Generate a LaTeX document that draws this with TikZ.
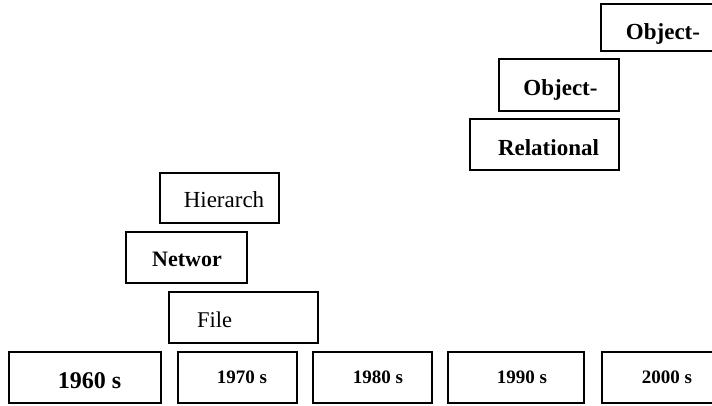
\documentclass[tikz,border=0pt]{standalone}
\usepackage{fontspec}
\setmainfont{Liberation Serif}
\usetikzlibrary{positioning}

\begin{document}
\begin{tikzpicture}[x=1pt,y=-1pt,
    era/.style={draw,line width=1.8pt,inner sep=0pt,anchor=north west},
    yr/.style={anchor=base,inner sep=0pt,font=\fontsize{19}{21}\selectfont\bfseries},
    model/.style={anchor=base,inner sep=0pt,font=\fontsize{23}{25}\selectfont\bfseries},
    plain/.style={anchor=base,inner sep=0pt,font=\fontsize{23}{25}\selectfont}]
    \clip (0,0) rectangle (712,405);
    % decades
    \node[era,minimum width=152,minimum height=51] (d60) at (8,351) {};
    \node[era,minimum width=119,minimum height=51] (d70) at (177,351) {};
    \node[era,minimum width=119,minimum height=51] (d80) at (312,351) {};
    \node[era,minimum width=136,minimum height=51] (d90) at (447,351) {};
    \node[era,minimum width=130,minimum height=51] (d00) at (601,351) {};
    \node[yr,font=\fontsize{24}{26}\selectfont\bfseries] (t60) at (89.5,388) {1960 s};
    \node[yr] (t70) at (242,383) {1970 s};
    \node[yr] (t80) at (378,383) {1980 s};
    \node[yr] (t90) at (522,383) {1990 s};
    \node[yr] (t00) at (667,383) {2000 s};
    % models
    \node[era,minimum width=149,minimum height=51] (file) at (168,291) {};
    \node[era,minimum width=121,minimum height=51] (netw) at (125,231) {};
    \node[era,minimum width=119,minimum height=50] (hier) at (159,172) {};
    \node[plain,font=\fontsize{22.5}{25}\selectfont] (tfile) at (214.5,327) {File};
    \node[model,font=\fontsize{22}{25}\selectfont\bfseries] (tnetw) at (187,266) {Networ};
    \node[plain] (thier) at (224,207) {Hierarch};
    \node[era,minimum width=149,minimum height=51] (rel) at (469,118) {};
    \node[era,minimum width=120,minimum height=52] (objr) at (498,58) {};
    \node[era,minimum width=130,minimum height=47] (obj) at (600,3) {};
    \node[model] (trel) at (548.5,155) {Relational};
    \node[model] (tobjr) at (560.5,95) {Object-};
    \node[model] (tobj) at (663,39.5) {Object-};
\end{tikzpicture}
\end{document}
